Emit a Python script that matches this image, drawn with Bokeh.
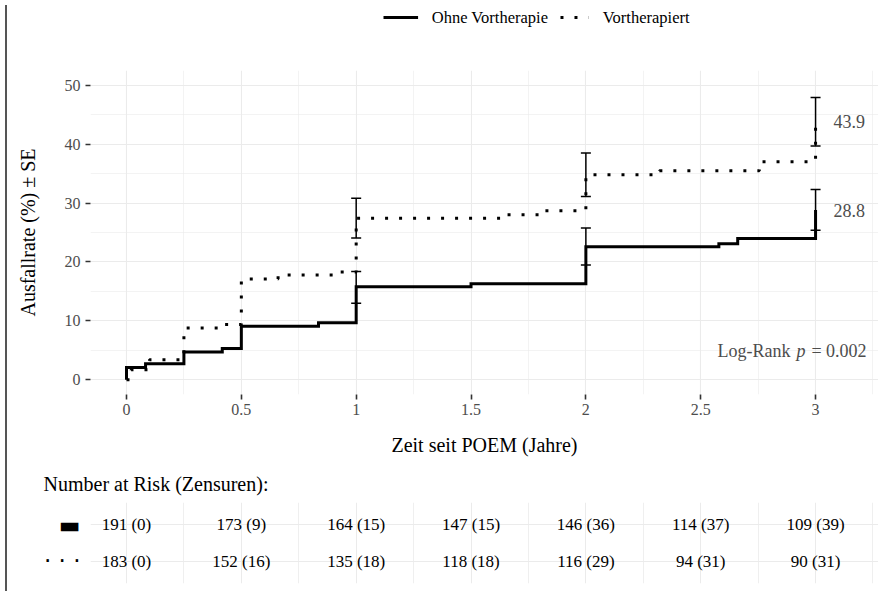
from bokeh.plotting import figure
from bokeh.models import Range1d, FixedTicker, ColumnDataSource, Whisker, TeeHead, Div
from bokeh.layouts import column, row
from bokeh.core.properties import value
from bokeh.embed import file_html
from bokeh.resources import INLINE

# ---------------- data ----------------
groups = ["Ohne Vortherapie", "Vortherapiert"]

t_ohne = [0, 0, 0.083, 0.25, 0.417, 0.5, 0.836, 1.0, 1.5, 2.0, 2.579, 2.661, 3.0]
r_ohne = [0, 2.1, 2.7, 4.7, 5.3, 9.1, 9.7, 15.8, 16.3, 22.6, 23.1, 24.0, 28.8]

t_vor = [0, 0.02, 0.1, 0.25, 0.427, 0.5, 0.66, 0.9, 1.0, 1.657, 1.82, 2.0, 2.32, 2.755, 3.0]
r_vor = [0, 1.7, 3.4, 8.8, 9.4, 17.1, 17.8, 18.3, 27.4, 28.0, 28.7, 34.8, 35.5, 37.0, 43.9]

eb_t = [1, 2, 3]
ohne_lo = [13.0, 19.5, 25.4]
ohne_hi = [18.4, 25.75, 32.3]
vor_lo = [24.05, 31.1, 39.7]
vor_hi = [30.8, 38.5, 47.9]

logrank_p = "0.002"

x_ticks = [0, 0.5, 1, 1.5, 2, 2.5, 3]
x_tick_labels = ["0", "0.5", "1", "1.5", "2", "2.5", "3"]
x_minor = [0.25, 0.75, 1.25, 1.75, 2.25, 2.75, 3.25]
y_ticks = [0, 10, 20, 30, 40, 50]
y_minor = [5, 15, 25, 35, 45]

risk_t = [0, 0.5, 1, 1.5, 2, 2.5, 3]
risk_ohne = [191, 173, 164, 147, 146, 114, 109]
cens_ohne = [0, 9, 15, 15, 36, 37, 39]
risk_vor = [183, 152, 135, 118, 116, 94, 90]
cens_vor = [0, 16, 18, 18, 29, 31, 31]

SERIF = "Liberation Serif"
GRID = "#EBEBEB"
W = 866
LEFT = 78

# ---------------- legend strip ----------------
lg = figure(width=W, height=58, x_range=Range1d(10, 10 + W), y_range=Range1d(58, 0),
            output_backend="svg", toolbar_location=None, min_border=0,
            x_axis_location=None, y_axis_location=None)
lg.grid.visible = False
lg.outline_line_color = None
lg.segment(x0=[332], y0=[17], x1=[370], y1=[17], line_width=3, line_color="black")
lg.segment(x0=[526.5], y0=[17], x1=[557.5], y1=[17], line_width=3, line_color="black",
           line_dash="3 11")
lg.text(x=[385, 573], y=[17, 17], text=groups, text_align="left", text_baseline="middle",
        text_font=value(SERIF), text_font_size="16.5px", text_color="black")

# ---------------- main plot ----------------
p = figure(width=W, height=404, x_range=Range1d(-0.1567, 3.274), y_range=Range1d(-2.5, 52.5),
           output_backend="svg", toolbar_location=None,
           min_border_left=LEFT, min_border_right=0, min_border_top=12, min_border_bottom=68)
p.outline_line_color = None
p.xaxis.ticker = FixedTicker(ticks=x_ticks, minor_ticks=x_minor)
p.xaxis.major_label_overrides = {float(k): v for k, v in zip(x_ticks, x_tick_labels)}
p.yaxis.ticker = FixedTicker(ticks=y_ticks, minor_ticks=y_minor)
for ax in (p.xaxis, p.yaxis):
    ax.axis_line_color = None
    ax.major_tick_line_color = "#333333"
    ax.major_tick_line_width = 1.6
    ax.major_tick_in = 0
    ax.major_tick_out = 5
    ax.minor_tick_in = 0
    ax.minor_tick_out = 0
    ax.major_label_text_font = SERIF
    ax.major_label_text_font_size = "16px"
    ax.major_label_text_color = "#4D4D4D"
    ax.axis_label_text_font = SERIF
    ax.axis_label_text_font_size = "20px"
    ax.axis_label_text_font_style = "normal"
    ax.axis_label_text_color = "black"
p.xaxis.major_label_standoff = 4
p.yaxis.major_label_standoff = 5
p.xaxis.axis_label = "Zeit seit POEM (Jahre)"
p.yaxis.axis_label = "Ausfallrate (%) ± SE"
p.xaxis.axis_label_standoff = 16
p.yaxis.axis_label_standoff = 23
for g in (p.xgrid, p.ygrid):
    g.grid_line_color = GRID
    g.grid_line_width = 1.1
    g.minor_grid_line_color = GRID
    g.minor_grid_line_width = 0.6

p.step(x=t_ohne, y=r_ohne, mode="after", line_width=3, line_color="black", line_join="miter")
p.step(x=t_vor, y=r_vor, mode="after", line_width=3, line_color="black", line_dash="3 11")

for lo, hi in ((ohne_lo, ohne_hi), (vor_lo, vor_hi)):
    src = ColumnDataSource(dict(base=eb_t, lower=lo, upper=hi))
    p.add_layout(Whisker(source=src, base="base", lower="lower", upper="upper",
                         line_width=1.5, line_color="black",
                         upper_head=TeeHead(size=10, line_width=1.5, line_color="black"),
                         lower_head=TeeHead(size=10, line_width=1.5, line_color="black")))

p.text(x=[t_ohne[-1], t_vor[-1]], y=[r_ohne[-1], r_vor[-1]],
       text=[f"{r_ohne[-1]:.1f}", f"{r_vor[-1]:.1f}"], x_offset=18,
       text_align="left", text_baseline="middle", text_font=value(SERIF),
       text_font_size="18px", text_color="#4D4D4D")

lr_x, lr_y = 3.222, 4.8
p.text(x=[lr_x], y=[lr_y], text=["= " + logrank_p], text_align="right", text_baseline="middle",
       text_font=value(SERIF), text_font_size="18px", text_color="#4D4D4D")
p.text(x=[lr_x], y=[lr_y], text=["p"], x_offset=-61, text_align="right", text_baseline="middle",
       text_font=value(SERIF), text_font_size="18px", text_color="#4D4D4D", text_font_style="italic")
p.text(x=[lr_x], y=[lr_y], text=["Log-Rank"], x_offset=-76, text_align="right",
       text_baseline="middle", text_font=value(SERIF), text_font_size="18px",
       text_color="#4D4D4D")

# ---------------- risk table ----------------
tb = figure(width=W, height=124, x_range=p.x_range, y_range=Range1d(0.4, 2.6),
            output_backend="svg", toolbar_location=None,
            min_border_left=LEFT, min_border_right=0, min_border_top=40, min_border_bottom=3)
tb.outline_line_color = None
tb.xaxis.visible = False
tb.xgrid.ticker = FixedTicker(ticks=x_ticks, minor_ticks=x_minor)
tb.xgrid.grid_line_color = GRID
tb.xgrid.grid_line_width = 1.0
tb.xgrid.minor_grid_line_color = GRID
tb.xgrid.minor_grid_line_width = 0.8
tb.yaxis.ticker = FixedTicker(ticks=[1, 2])
tb.yaxis.major_label_overrides = {1: "· · ·", 2: "▬"}
tb.yaxis.axis_line_color = None
tb.yaxis.major_tick_line_color = None
tb.yaxis.major_tick_out = 0
tb.yaxis.major_tick_in = 0
tb.yaxis.minor_tick_out = 0
tb.yaxis.minor_tick_in = 0
tb.yaxis.major_label_text_font = "DejaVu Sans"
tb.yaxis.major_label_text_font_size = "23px"
tb.yaxis.major_label_text_color = "black"
tb.yaxis.major_label_standoff = 10
tb.ygrid.ticker = FixedTicker(ticks=[1, 2])
tb.ygrid.grid_line_color = GRID
tb.ygrid.grid_line_width = 1.1

tb.title.text = "Number at Risk (Zensuren):"
tb.title.align = "left"
tb.title.offset = -47
tb.title.text_font = SERIF
tb.title.text_font_size = "20px"
tb.title.text_font_style = "normal"
tb.title.text_color = "black"
tb.title.standoff = 16

tb.text(x=risk_t, y=[2] * len(risk_t), text=[f"{n} ({c})" for n, c in zip(risk_ohne, cens_ohne)],
        text_align="center", text_baseline="middle", text_font=value(SERIF),
        text_font_size="17px", text_color="black")
tb.text(x=risk_t, y=[1] * len(risk_t), text=[f"{n} ({c})" for n, c in zip(risk_vor, cens_vor)],
        text_align="center", text_baseline="middle", text_font=value(SERIF),
        text_font_size="17px", text_color="black")

border = Div(text="", width=2, height=586, styles={"background-color": "#555555"})
layout = row(border, column(lg, p, tb))

open("out.html", "w", encoding="utf-8").write(file_html(layout, INLINE))
